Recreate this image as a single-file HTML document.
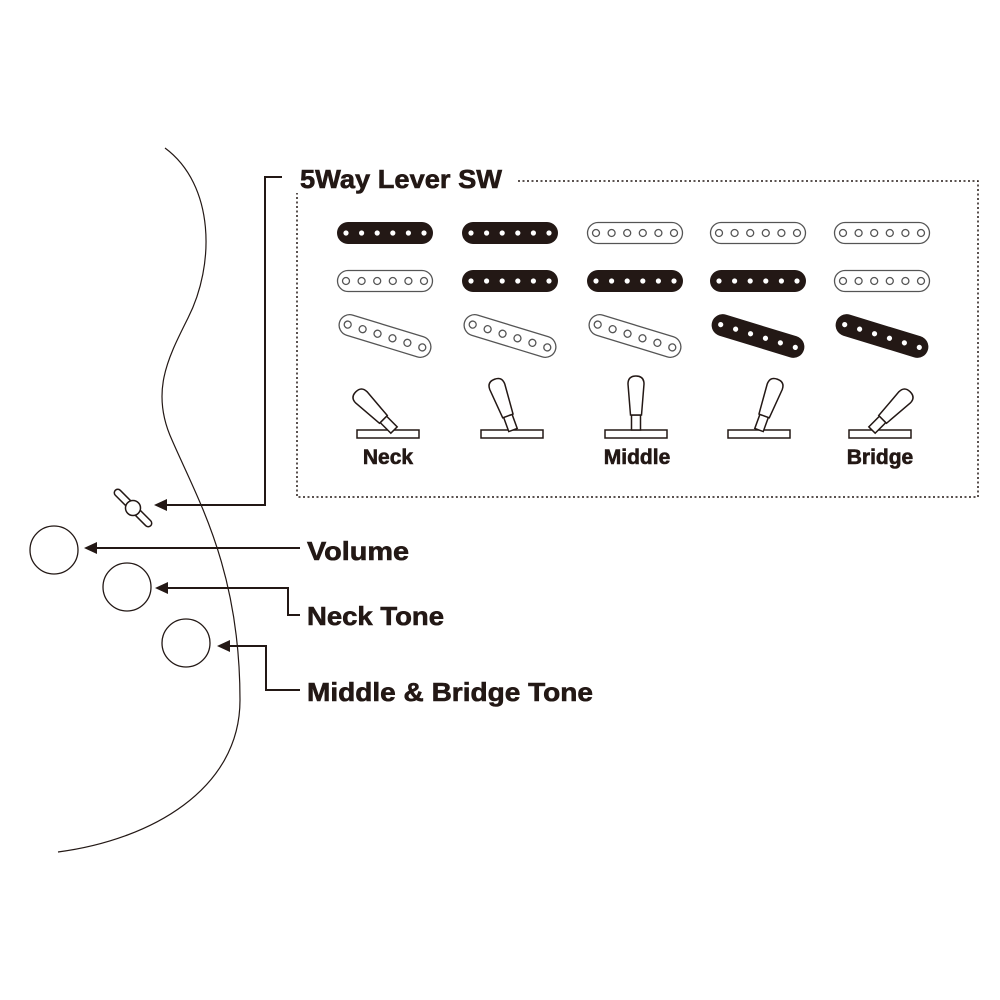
<!DOCTYPE html>
<html><head><meta charset="utf-8"><style>
html,body{margin:0;padding:0;background:#fff;}
svg{display:block;}
text{font-family:"Liberation Sans",sans-serif;font-weight:bold;fill:#231815;stroke:#231815;stroke-width:0.6;}
</style></head><body>
<svg width="1000" height="1000" viewBox="0 0 1000 1000" xmlns="http://www.w3.org/2000/svg">
<defs>
  <g id="pkB"><rect x="-48" y="-11" width="96" height="22" rx="11" fill="#231815"/>
    <g fill="#fff"><circle cx="-39" r="2.6"/><circle cx="-23.4" r="2.6"/><circle cx="-7.8" r="2.6"/><circle cx="7.8" r="2.6"/><circle cx="23.4" r="2.6"/><circle cx="39" r="2.6"/></g></g>
  <g id="pkW"><rect x="-47.5" y="-10.5" width="95" height="21" rx="10.5" fill="#fff" stroke="#555" stroke-width="1.3"/>
    <g fill="none" stroke="#555" stroke-width="1.3"><circle cx="-39" r="3.5"/><circle cx="-23.4" r="3.5"/><circle cx="-7.8" r="3.5"/><circle cx="7.8" r="3.5"/><circle cx="23.4" r="3.5"/><circle cx="39" r="3.5"/></g></g>
  <g id="lev" fill="#fff" stroke="#231815" stroke-width="1.5"><rect x="-4.5" y="-15" width="9" height="15"/><path d="M-5.5,-15 L-8,-46 Q-8,-54 0,-54 Q8,-54 8,-46 L5.5,-15 Z"/></g>
</defs>

<path d="M165,148 C215,185 215,265 188,318 C168,358 150,392 172,440 C198,500 240,570 240,700 C240,790 150,840 58,852" fill="none" stroke="#231815" stroke-width="1.2"/>

<text x="300" y="188" font-size="26" textLength="202" lengthAdjust="spacingAndGlyphs">5Way Lever SW</text>
<path d="M518,181 H978 V497 H297 V193" fill="none" stroke="#231815" stroke-width="1.5" stroke-dasharray="2,2.5"/>

<use href="#pkB" x="385" y="233"/><use href="#pkB" x="510" y="233"/><use href="#pkW" x="635" y="233"/><use href="#pkW" x="758" y="233"/><use href="#pkW" x="882" y="233"/>
<use href="#pkW" x="385" y="281"/><use href="#pkB" x="510" y="281"/><use href="#pkB" x="635" y="281"/><use href="#pkB" x="758" y="281"/><use href="#pkW" x="882" y="281"/>
<g transform="translate(385,336) rotate(17)"><use href="#pkW"/></g>
<g transform="translate(510,336) rotate(17)"><use href="#pkW"/></g>
<g transform="translate(635,336) rotate(17)"><use href="#pkW"/></g>
<g transform="translate(758,336) rotate(17)"><use href="#pkB"/></g>
<g transform="translate(882,336) rotate(17)"><use href="#pkB"/></g>

<g stroke="#231815" stroke-width="1.5" fill="#fff">
<rect x="357" y="430" width="62" height="8"/><rect x="481" y="430" width="62" height="8"/><rect x="605" y="430" width="62" height="8"/><rect x="728" y="430" width="62" height="8"/><rect x="849" y="430" width="62" height="8"/>
</g>
<g transform="translate(394,430) rotate(-45)"><use href="#lev"/></g>
<g transform="translate(513,430) rotate(-20)"><use href="#lev"/></g>
<g transform="translate(636,430)"><use href="#lev"/></g>
<g transform="translate(759,430) rotate(20)"><use href="#lev"/></g>
<g transform="translate(872,430) rotate(45)"><use href="#lev"/></g>
<text x="388" y="464" font-size="21" text-anchor="middle">Neck</text>
<text x="637" y="464" font-size="21" text-anchor="middle">Middle</text>
<text x="880" y="464" font-size="21" text-anchor="middle">Bridge</text>

<g transform="translate(133,508) rotate(45)" fill="#fff" stroke="#231815" stroke-width="1.5">
<rect x="-25" y="-3.5" width="50" height="7" rx="3.5"/><circle r="7.5"/></g>

<g fill="#fff" stroke="#231815" stroke-width="1.3">
<circle cx="54" cy="550" r="24"/><circle cx="127" cy="587" r="24"/><circle cx="186" cy="643" r="24"/></g>

<g fill="none" stroke="#231815" stroke-width="2">
<path d="M282,177 H265 V505 H165"/>
<path d="M300,548 H95"/>
<path d="M300,615 H288 V588 H166"/>
<path d="M300,690 H266 V646 H228"/>
</g>
<g fill="#231815">
<path d="M154,505 L167,499 L167,511 Z"/>
<path d="M84,548 L97,542 L97,554 Z"/>
<path d="M155,588 L168,582 L168,594 Z"/>
<path d="M217,646 L230,640 L230,652 Z"/>
</g>

<text x="307" y="560" font-size="26" textLength="102" lengthAdjust="spacingAndGlyphs">Volume</text>
<text x="307" y="625" font-size="26" textLength="137" lengthAdjust="spacingAndGlyphs">Neck Tone</text>
<text x="307" y="701" font-size="26" textLength="286" lengthAdjust="spacingAndGlyphs">Middle &amp; Bridge Tone</text>
</svg>
</body></html>
